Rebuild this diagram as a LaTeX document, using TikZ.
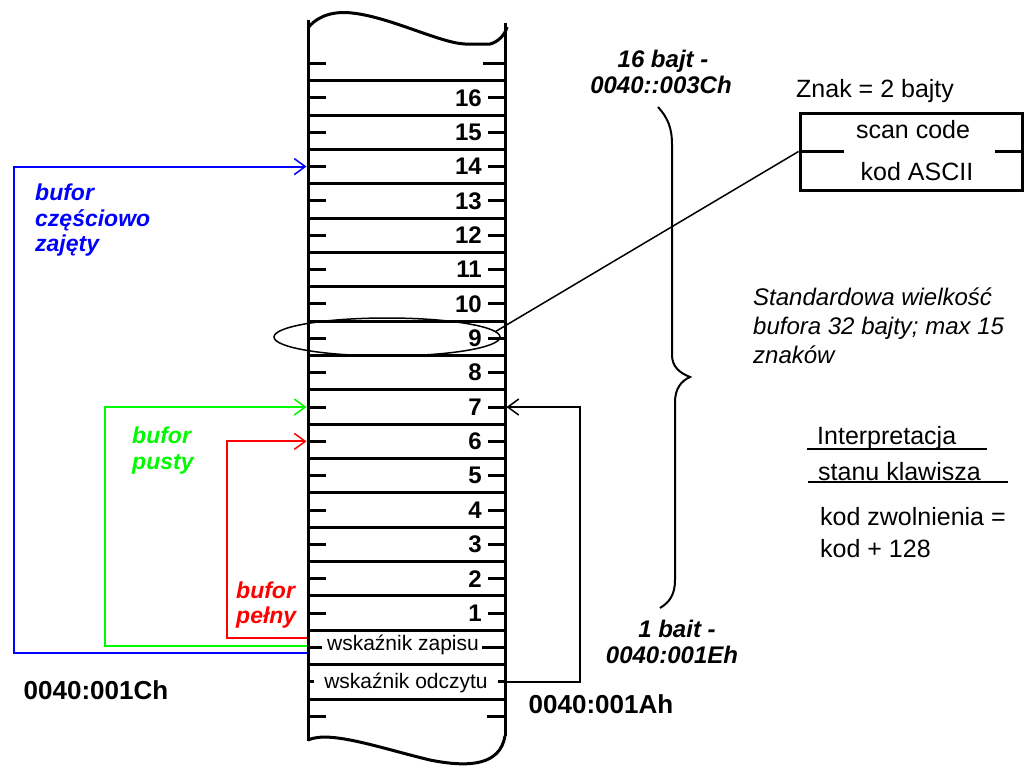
\documentclass[tikz,border=0pt]{standalone}
\usepackage{fontspec}
\setmainfont{Liberation Sans}
\usetikzlibrary{arrows.meta,shapes.geometric,calc}
\definecolor{cblue}{RGB}{0,0,255}
\definecolor{cgreen}{RGB}{0,250,0}
\definecolor{cred}{RGB}{255,0,0}
\newcommand\myfs[2]{\fontsize{#1}{#2}\selectfont}
\begin{document}
\begin{tikzpicture}[x=1pt,y=-1pt,
  tape/.style={line width=3pt},
  tick/.style={line width=3pt},
  num/.style={font=\bfseries\myfs{24}{24},anchor=east,inner sep=0pt},
  ptr/.style={font=\myfs{21}{21},anchor=base,inner sep=0pt},
  lblb/.style={font=\bfseries\itshape\myfs{23}{23},anchor=base west,inner sep=0pt},
  txt/.style={font=\myfs{25}{25},anchor=base west,inner sep=0pt},
  txc/.style={font=\myfs{25}{25},anchor=base,inner sep=0pt},
  itx/.style={font=\itshape\myfs{24}{24},anchor=base west,inner sep=0pt},
  bix/.style={font=\bfseries\itshape\myfs{24}{24},anchor=base,inner sep=0pt},
  bx/.style={font=\bfseries\myfs{26}{26},anchor=base,inner sep=0pt},
  col/.style={line width=2pt},
  barb/.style={-{Straight Barb[length=11pt,width=16pt,line width=1.5pt]}},
  thinl/.style={line width=1.5pt}
]
\useasboundingbox (0,0) rectangle (1036,769);
\fill[white] (0,0) rectangle (1036,769);

% cell coordinates
\foreach \k in {1,...,16}{
  \pgfmathsetmacro\cy{80.7+34.35*(16.5-\k)}
  \coordinate (L\k) at (308,\cy);
  \coordinate (R\k) at (505,\cy);
}
\coordinate (Lz) at (308,647.5); \coordinate (Rz) at (505,647.5);
\coordinate (Lo) at (308,681.9); \coordinate (Ro) at (505,681.9);
\coordinate (zr) at (308,638); \coordinate (zg) at (308,646); \coordinate (zb) at (308,653);

% coloured pointers
\draw[col,cred,barb,shorten >=1.5pt] (zr) -- (227,638) |- (L6);
\draw[col,cgreen,barb,shorten >=1.5pt] (zg) -- (105,646) |- (L7);
\draw[col,cblue,barb,shorten >=1.5pt] (zb) -- (14,653) |- (L14);
\draw[thinl,barb,shorten >=1.5pt] (Ro) -- (580,681.9) |- (R7);

% tape
\foreach \i in {0,...,18} \draw[tick] (308,{80.7+34.35*\i}) -- (505,{80.7+34.35*\i});
\foreach \k in {1,...,16}{
  \draw[tick] (L\k) -- ++(18,0);
  \draw[tick] (R\k) -- ++(-17,0);
  \node[num] (n\k) at ($(R\k)+(-23,0)$) {\k};
}
\draw[tick] (Lz) -- ++(14,0); \draw[tick] (Rz) -- ++(-23,0);
\node[ptr] (zap) at (403,650) {wskaźnik zapisu};
\draw[tick] (Lo) -- ++(6,0); \draw[tick] (Ro) -- ++(-7,0);
\node[ptr] (odc) at (406,688) {wskaźnik odczytu};
\draw[tick] (308,63.5) -- ++(18,0); \draw[tick] (505,63.5) -- ++(-22,0);
\draw[tick] (308,716.2) -- ++(18,0); \draw[tick] (505,716.2) -- ++(-18,0);
\draw[tape] (308,20) -- (308,741);
\draw[tape] (505,23) -- (505,736);
\draw[tape] (308,28) .. controls (318,15) and (335,11) .. (352,13) .. controls (390,17) and (440,43) .. (465,44) -- (490,44) .. controls (498,42) and (505,35) .. (507,27);
\draw[tape] (308,740) .. controls (330,730) and (380,748) .. (430,760) .. controls (470,768) and (500,765) .. (505,736);

% pointer labels
\node[lblb,cblue] (b1) at (35,200) {bufor};
\node[lblb,cblue] (b2) at (35,226) {częściowo};
\node[lblb,cblue] (b3) at (35,251) {zajęty};
\node[lblb,cgreen] (g1) at (132,443) {bufor};
\node[lblb,cgreen] (g2) at (132,469) {pusty};
\node[lblb,cred] (r1) at (236,598) {bufor};
\node[lblb,cred] (r2) at (236,623) {pełny};

% addresses
\node[bx] (a1c) at (96,699) {0040:001Ch};
\node[bx] (a1a) at (601,713) {0040:001Ah};
\node[bix] (t16a) at (663,67) {16 bajt -};
\node[bix] (t16b) at (661,93) {0040::003Ch};
\node[bix] (t1a) at (677,637) {1 bait -};
\node[bix] (t1b) at (672,663) {0040:001Eh};

% brace
\draw[line width=2pt] (658,107) .. controls (668,118) and (672,128) .. (672,145) -- (672,355) .. controls (672,367) and (680,373) .. (690,377) .. controls (681,381) and (675,389) .. (675,402) -- (675,580) .. controls (675,594) and (670,602) .. (660,608);

% ellipse and character box
\node[ellipse,draw,line width=1.5pt,minimum width=226pt,minimum height=38pt,inner sep=0pt] (ell) at (387,337) {};
\node[draw,line width=3pt,minimum width=222pt,minimum height=77pt,inner sep=0pt] (box) at (911,151.5) {};
\draw[tick] (box.west) -- ++(45,0);
\draw[tick] (box.east) -- ++(-29,0);
\draw[thinl] (box.west) -- (ell.3);
\node[txc] (sc) at (913,138) {scan code};
\node[txc] (ka) at (917,180) {kod ASCII};
\node[txt] (znak) at (796,97) {Znak = 2 bajty};

% notes
\node[itx] (s1) at (753,305) {Standardowa wielkość};
\node[itx] (s2) at (753,334) {bufora 32 bajty; max 15};
\node[itx] (s3) at (753,363) {znaków};
\node[txt] (i1) at (817,444) {Interpretacja};
\node[txt] (i2) at (818,480) {stanu klawisza};
\draw[line width=2pt] (807,449) -- (987,449);
\draw[line width=2pt] (808,482) -- (1008,482);
\node[txt] (k1) at (820,525) {kod zwolnienia =};
\node[txt] (k2) at (820,557) {kod + 128};
\end{tikzpicture}
\end{document}
